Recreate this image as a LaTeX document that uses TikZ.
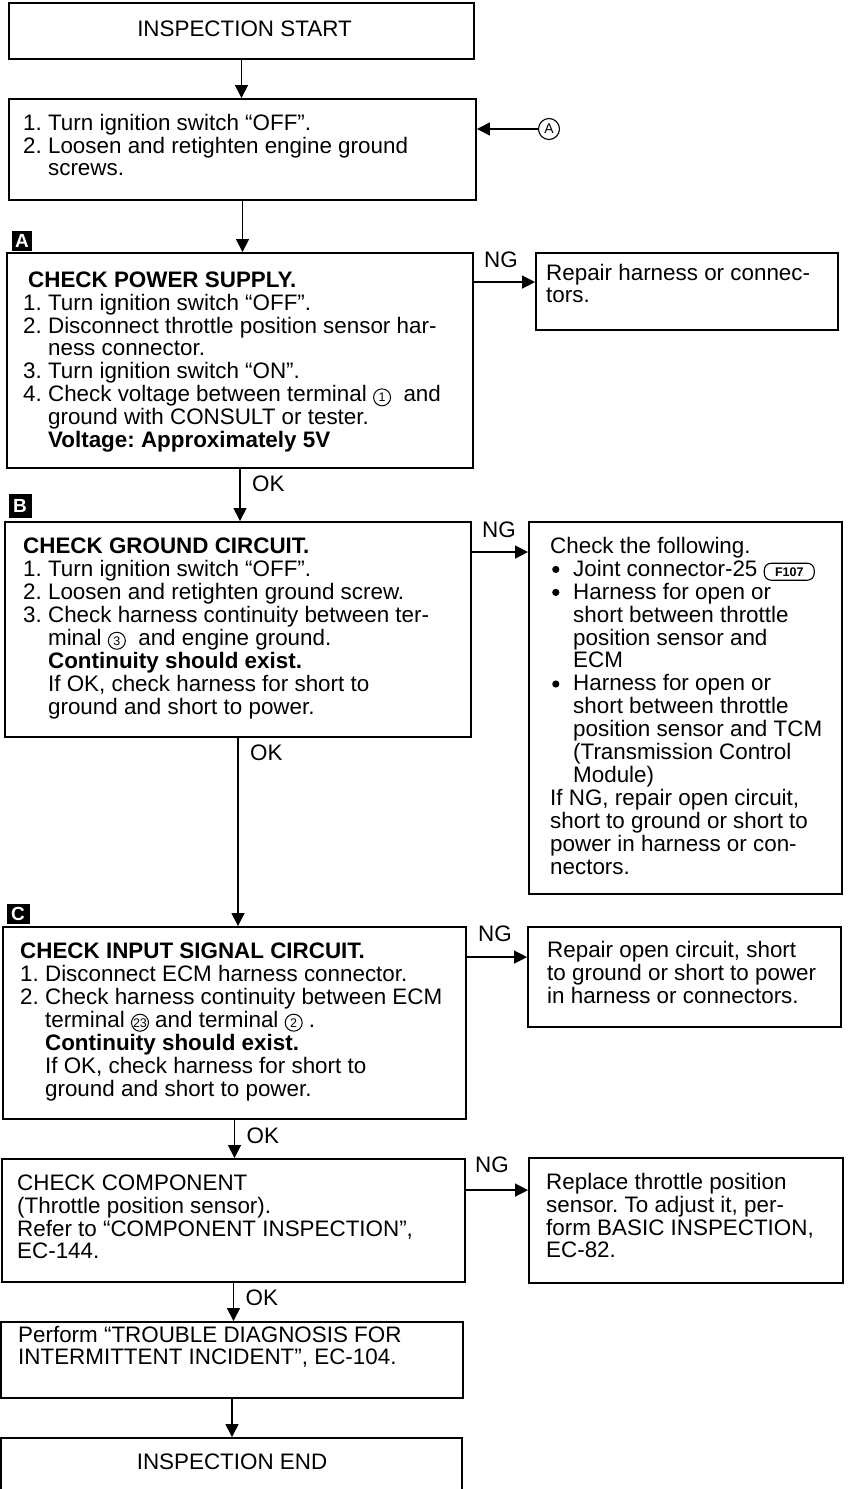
\documentclass[tikz,border=0pt]{standalone}
\usepackage{fontspec}
\setmainfont{Liberation Sans}
\usetikzlibrary{arrows.meta,fit,calc}
\frenchspacing

\newcommand\cnum[1]{\tikz[baseline=(cn.base)]\node[draw,circle,inner sep=0pt,minimum size=17pt,line width=1pt,font=\fontsize{12.5}{12.5}\selectfont](cn){#1};}
\newcommand\fnum[1]{\tikz[baseline=(fn.base)]\node[draw,rounded corners=7pt,inner xsep=3pt,inner ysep=1.5pt,minimum width=50pt,minimum height=17pt,line width=1.1pt,font=\fontsize{12.5}{12.5}\selectfont\bfseries](fn){#1};}
\newcommand\txtl[1]{\begin{tabular}[t]{@{}l@{}}#1\end{tabular}}
\newcommand\bdot{\raisebox{3pt}{\tikz\fill (0,0) circle (3.6pt);}}
\newcommand\bul{\makebox[23pt][l]{\hspace{2pt}\bdot}}
\newcommand\hng{\hspace*{23pt}}

\tikzset{
 box/.style={draw, line width=1.9pt, inner sep=0pt},
 txt/.style={anchor=base west, inner sep=0pt, font=\fontsize{22.4}{22.6}\selectfont},
 ctxt/.style={anchor=base, inner sep=0pt, font=\fontsize{22.4}{22.6}\selectfont},
 arr/.style={line width=1.4pt, -{Triangle[length=13pt,width=13pt]}},
 lbl/.style={anchor=base west, inner sep=0pt, font=\fontsize{22.4}{22.6}\selectfont},
 marker/.style={fill=black, inner sep=0pt, text=white, font=\fontsize{19}{19}\selectfont\bfseries},
}

\begin{document}
\begin{tikzpicture}[x=1pt,y=-1pt]
\useasboundingbox (0,0) rectangle (851,1489);

% boxes
\node[box, fit={(9,3) (474,59)}] (start) {};
\node[box, fit={(9,99) (476,200)}] (b1) {};
\node[box, fit={(7,253) (473,468)}] (bA) {};
\node[box, fit={(536,253) (838,330)}] (rA) {};
\node[box, fit={(5,522) (471,737)}] (bB) {};
\node[box, fit={(529,522) (842,894)}] (rB) {};
\node[box, fit={(3,927) (466,1119)}] (bC) {};
\node[box, fit={(528,927) (841,1027)}] (rC) {};
\node[box, fit={(2,1159) (465,1282)}] (bD) {};
\node[box, fit={(529,1158) (843,1283)}] (rD) {};
\node[box, fit={(1,1322) (463,1398)}] (bE) {};
\node[box, fit={(1,1438) (462,1496)}] (bEnd) {};

% markers
\node[marker, minimum width=20pt, minimum height=20pt] (mA) at (22,240.5) {A};
\node[marker, minimum width=23pt, minimum height=24pt] (mB) at (20,505.5) {B};
\node[marker, minimum width=23pt, minimum height=20pt] (mC) at (18,914) {C};

% texts
\node[ctxt] (tStart) at (244.5,36) {INSPECTION START};
\node[txt] (t1) at (23,130) {\txtl{1. Turn ignition switch “OFF”.\\
2. Loosen and retighten engine ground\\
\hphantom{2. }screws.}};
\node[txt] (tA) at (23,287) {\txtl{\hspace*{5pt}\textbf{CHECK POWER SUPPLY.}\\
1. Turn ignition switch “OFF”.\\
2. Disconnect throttle position sensor har-\\
\hphantom{2. }ness connector.\\
3. Turn ignition switch “ON”.\\
4. Check voltage between terminal \cnum{1}\ \ and\\
\hphantom{4. }ground with CONSULT or tester.\\
\hphantom{4. }\textbf{Voltage: Approximately 5V}}};
\node[txt] (trA) at (546,280) {\txtl{Repair harness or connec-\\tors.}};
\node[txt] (tB) at (23,553) {\txtl{\textbf{CHECK GROUND CIRCUIT.}\\
1. Turn ignition switch “OFF”.\\
2. Loosen and retighten ground screw.\\
3. Check harness continuity between ter-\\
\hphantom{3. }minal \cnum{3}\ \ and engine ground.\\
\hphantom{3. }\textbf{Continuity should exist.}\\
\hphantom{3. }If OK, check harness for short to\\
\hphantom{3. }ground and short to power.}};
\node[txt] (trB) at (550,553) {\txtl{Check the following.\\
\bul Joint connector-25 \fnum{F107}\\
\bul Harness for open or\\
\hng short between throttle\\
\hng position sensor and\\
\hng ECM\\
\bul Harness for open or\\
\hng short between throttle\\
\hng position sensor and TCM\\
\hng (Transmission Control\\
\hng Module)\\
If NG, repair open circuit,\\
short to ground or short to\\
power in harness or con-\\
nectors.}};
\node[txt] (tC) at (20,958) {\txtl{\textbf{CHECK INPUT SIGNAL CIRCUIT.}\\
1. Disconnect ECM harness connector.\\
2. Check harness continuity between ECM\\
\hphantom{2. }terminal \cnum{23} and terminal \cnum{2} .\\
\hphantom{2. }\textbf{Continuity should exist.}\\
\hphantom{2. }If OK, check harness for short to\\
\hphantom{2. }ground and short to power.}};
\node[txt] (trC) at (547,957) {\txtl{Repair open circuit, short\\
to ground or short to power\\
in harness or connectors.}};
\node[txt] (tD) at (17,1190) {\txtl{CHECK COMPONENT\\
(Throttle position sensor).\\
Refer to “COMPONENT INSPECTION”,\\
EC-144.}};
\node[txt] (trD) at (546,1189) {\txtl{Replace throttle position\\
sensor. To adjust it, per-\\
form BASIC INSPECTION,\\
EC-82.}};
\node[txt] (tE) at (18,1342) {\txtl{Perform “TROUBLE DIAGNOSIS FOR\\
INTERMITTENT INCIDENT”, EC-104.}};
\node[ctxt] (tEnd) at (232,1469) {INSPECTION END};

% circled A entry
\node[circle, draw, line width=1.1pt, minimum size=21pt, inner sep=0pt, font=\fontsize{14}{14}\selectfont] (cA) at (549,129) {A};
\draw[arr] (cA.west) -- (cA.west -| b1.east);

% vertical connectors
\draw[arr] (start.south) -- (start.south |- b1.north);
\draw[arr] (b1.south) -- (b1.south |- bA.north);
\draw[arr] (bA.south) -- (bA.south |- bB.north);
\draw[arr] (bB.south) -- (bB.south |- bC.north);
\draw[arr] (bC.south) -- (bC.south |- bD.north);
\draw[arr] (bD.south) -- (bD.south |- bE.north);
\draw[arr] (bE.south) -- (bE.south |- bEnd.north);

% OK labels
\node[lbl] (okA) at ([xshift=12pt,yshift=-23pt]bA.south) {OK};
\node[lbl] (okB) at ([xshift=12pt,yshift=-23pt]bB.south) {OK};
\node[lbl] (okC) at ([xshift=12pt,yshift=-24pt]bC.south) {OK};
\node[lbl] (okD) at ([xshift=12pt,yshift=-23pt]bD.south) {OK};

% NG connectors
\draw[arr] ([yshift=-30pt]bA.north east) -- ([yshift=-30pt]rA.north west);
\draw[arr] ([yshift=-31pt]bB.north east) -- ([yshift=-31pt]rB.north west);
\draw[arr] ([yshift=-31pt]bC.north east) -- ([yshift=-31pt]rC.north west);
\draw[arr] ([yshift=-32pt]bD.north east) -- ([yshift=-33pt]rD.north west);

\node[lbl] (ngA) at ([xshift=10pt,yshift=-15pt]bA.north east) {NG};
\node[lbl] (ngB) at ([xshift=10pt,yshift=-16pt]bB.north east) {NG};
\node[lbl] (ngC) at ([xshift=11pt,yshift=-15pt]bC.north east) {NG};
\node[lbl] (ngD) at ([xshift=9pt,yshift=-14pt]bD.north east) {NG};
\end{tikzpicture}
\end{document}
